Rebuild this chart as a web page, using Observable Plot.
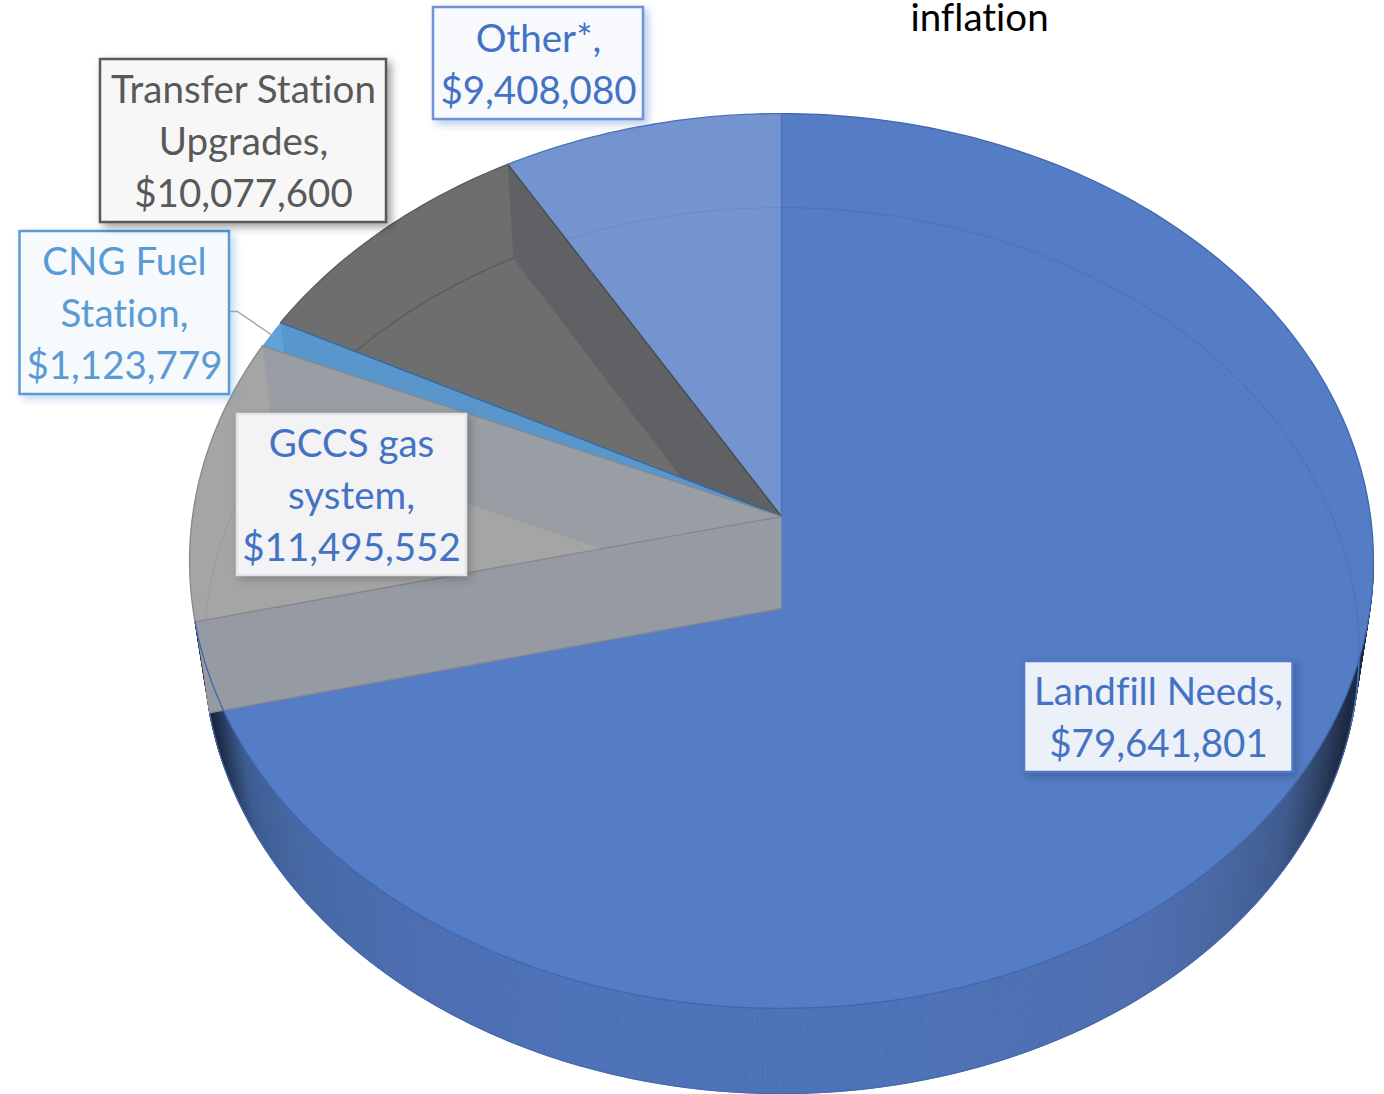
<!DOCTYPE html>
<html>
<head>
<meta charset="utf-8">
<script src="https://cdn.jsdelivr.net/npm/d3@7"></script>
<script src="https://cdn.jsdelivr.net/npm/@observablehq/plot@0.6"></script>
<style>
html,body{margin:0;padding:0;background:#fff;overflow:hidden}
svg text{font-variant-ligatures:none}
.box-blue rect{filter:drop-shadow(4px 4px 4px rgba(68,114,196,.38))}
.box-sky rect{filter:drop-shadow(4px 4px 4px rgba(91,155,213,.38))}
.box-gray rect{filter:drop-shadow(4px 4px 4px rgba(0,0,0,.38))}
.box-soft rect{filter:drop-shadow(3px 3px 4px rgba(0,0,0,.22))}
</style>
</head>
<body>
<div id="chart"></div>
<script>
// ---- data, in chart order (clockwise from 12 o'clock)
const categories = ["Landfill Needs", "GCCS gas\nsystem", "CNG Fuel\nStation", "Transfer Station\nUpgrades", "Other*"];
const values = [79641801, 11495552, 1123779, 10077600, 9408080];
const strayText = "inflation";

// ---- styling, per slice
const topColors = ["#547dc6", "#a5a5a5", "#5896cc", "#6e6e6e", "#7494d0"];
const radialColors = ["#969aa2", "#999da4", "#5896cc", "#5f6165", "#7494d0"];
const edgeColors = ["#4a72bd", "#85888c", "#2f6aa6", "#4a4e52", "#4a72bd"];
const arcColors = ["#4a74c0", "#9a9a9a", "#5896cc", "#5c5c5c", "#6a8ccc"];
const textColors = ["#4472c4", "#4472c4", "#5b9bd5", "#595959", "#4472c4"];
const boxFills = ["#ecf0f8", "#f3f3f5", "#f6fafd", "#f7f7f7", "#f7f9fd"];
const boxStrokes = ["#4f78c8", "#e4e4e6", "#5b9bd5", "#595959", "#6e93d8"];
const boxClasses = ["box-soft", "box-soft", "box-sky", "box-gray", "box-blue"];
const boxX1 = [1024, 237, 19.5, 100, 433];
const boxX2 = [1292.5, 466, 229, 386, 643];
const boxY1 = [661, 414, 231, 59, 7];
const boxY2 = [772, 575, 394, 222, 119];
const textX = [1158, 351, 124, 243, 538];

// ---- wall shading across the page
const wallStops = [212, 250, 300, 400, 560, 900, 1130, 1200, 1280, 1345];
const wallShades = ["#1c2a42", "#3e5c92", "#4466a3", "#4b6cb0", "#4e72b8", "#4e72b8", "#4e6eb0", "#4a68a5", "#3e5b8e", "#202c44"];
const wallColor = d3.scaleLinear().domain(wallStops).range(wallShades).clamp(true);

// ---- perspective of the tilted disc: upper face and lower face
const upper = t => {
  const d = 1 + 0.0994 * Math.cos(t);
  return [781 + 589 * Math.sin(t) / d, 516 - 443 * Math.cos(t) / d];
};
const lower = t => {
  const d = 1 + 0.095 * Math.cos(t);
  return [781 + 575 * Math.sin(t) / d, 608 - 439 * Math.cos(t) / d];
};
const apexUp = [781, 516];
const apexLow = [781, 608];
const deg = Math.PI / 180;
const sweep = (a, b, step = deg) => {
  const n = Math.max(2, Math.ceil(Math.abs(b - a) / step));
  return d3.range(n + 1).map(i => a + (b - a) * i / n);
};

const arcs = d3.pie().sort(null)(values);
const shapes = [];
let nextId = 0;
const add = (pts, fill, stroke, w = 1) => {
  const id = nextId++;
  for (const [x, y] of pts) shapes.push({id, x, y, fill, stroke, w});
};
const face = i => [apexUp, ...sweep(arcs[i].startAngle, arcs[i].endAngle).map(upper), apexUp];
const radial = t => [apexUp, upper(t), lower(t), apexLow, apexUp];

// front wall, one narrow strip at a time
const wallAngles = sweep(95 * deg, arcs[0].endAngle, deg / 4);
wallAngles.slice(1).forEach((t, k) => {
  const p = wallAngles[k];
  const c = wallColor((upper(t)[0] + lower(t)[0] + upper(p)[0] + lower(p)[0]) / 4);
  add([upper(p), upper(t), lower(t), lower(p), upper(p)], c, c, 0.8);
});
add(sweep(95 * deg, arcs[0].endAngle).map(lower), "none", "#4569ad", 1.2);

// Other
add(face(4), topColors[4], "none");
add(sweep(arcs[4].startAngle, arcs[4].endAngle).map(lower), "none", arcColors[4], 1.2);

// Transfer Station
add(face(3), topColors[3], "none");
add(radial(arcs[3].endAngle), radialColors[3], "none");
add(sweep(arcs[3].startAngle, arcs[3].endAngle).map(lower), "none", arcColors[3], 1.5);
add([apexUp, upper(arcs[3].endAngle)], "none", edgeColors[3], 1.5);

// CNG Fuel Station
add(face(2), "#5fa2dc", "none");
add(radial(arcs[2].endAngle), radialColors[2], "none");
add([apexUp, upper(arcs[2].endAngle)], "none", edgeColors[2], 1.3);

// GCCS
add(face(1), topColors[1], "none");
add(sweep(arcs[1].startAngle, arcs[1].endAngle).map(lower), "none", arcColors[1], 1);
add(radial(arcs[1].endAngle), radialColors[1], "none");
add([apexUp, upper(arcs[1].endAngle)], "none", edgeColors[1], 1.3);

// Landfill
add(face(0), topColors[0], "none");
add(sweep(0, 105 * deg).map(lower), "none", arcColors[0], 1.2);

// Landfill's cut side, lying over the face
add(radial(arcs[0].endAngle), radialColors[0], "none");
add([apexLow, lower(arcs[1].endAngle)], "none", "#a0a1a3", 1);
add([apexLow, lower(arcs[0].endAngle)], "none", edgeColors[1], 1.3);
add([apexUp, upper(arcs[0].endAngle)], "none", edgeColors[1], 1.3);

// outlines
add(sweep(arcs[1].startAngle, arcs[1].endAngle).map(upper), "none", "#85888c", 1.3);
add(sweep(arcs[3].startAngle, arcs[3].endAngle).map(upper), "none", "#5a5a5a", 1.3);
add(sweep(arcs[4].startAngle, 2 * Math.PI).map(upper), "none", "#4a72bd", 1.3);
add(sweep(0, arcs[0].endAngle).map(upper), "none", "#3f67b0", 1.3);
add([apexUp, upper(0)], "none", "#4a72bd", 1.3);

const fmt = d3.format("$,");
const labels = categories.map((c, i) => ({
  text: c + ",\n" + fmt(values[i]),
  color: textColors[i], x: textX[i],
  y: (boxY1[i] + boxY2[i]) / 2 - 2.5,
  x1: boxX1[i], x2: boxX2[i], y1: boxY1[i], y2: boxY2[i],
  fill: boxFills[i], stroke: boxStrokes[i], cls: boxClasses[i]
}));

const fontSize = 38.5;
const chart = Plot.plot({
  width: 1384, height: 1094, margin: 0,
  x: {domain: [0, 1384], range: [0, 1384], axis: null},
  y: {domain: [0, 1094], range: [0, 1094], axis: null},
  color: {type: "identity"},
  style: {background: "#fff", fontFamily: "Lato, sans-serif"},
  marks: [
    Plot.line(shapes, {x: "x", y: "y", z: "id", fill: "fill", stroke: "stroke", strokeWidth: "w", curve: "linear"}),
    Plot.line([{x: 229, y: 311}, {x: 237, y: 311}, {x: 272, y: 335}], {x: "x", y: "y", stroke: "#a5a5a5", strokeWidth: 1.5}),
    ...labels.map(d => Plot.rect([d], {x1: "x1", x2: "x2", y1: "y1", y2: "y2", fill: "fill", stroke: "stroke", strokeWidth: 2.5, className: d.cls})),
    Plot.text(labels, {x: "x", y: "y", text: "text", fill: "color", fontSize, lineHeight: 52 / fontSize, textAnchor: "middle"}),
    Plot.text([strayText], {x: () => 979, y: () => 18, text: d => d, fill: "#000", fontSize, textAnchor: "middle"})
  ]
});
document.getElementById("chart").appendChild(chart);
</script>
</body>
</html>
